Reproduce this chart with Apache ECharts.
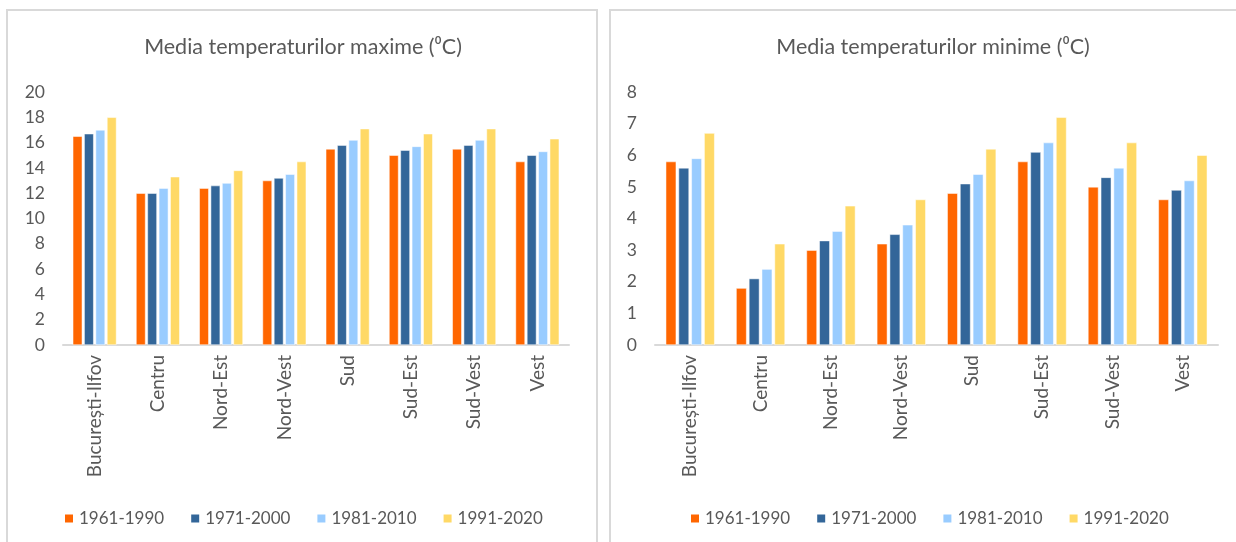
<!DOCTYPE html>
<html>
<head>
<meta charset="utf-8">
<script src="https://cdn.jsdelivr.net/npm/echarts@6/dist/echarts.min.js"></script>
<style>
html,body{margin:0;padding:0;background:#fff;}
#chart{width:1236px;height:542px;}
</style>
</head>
<body>
<div id="chart"></div>
<script>
const categories = ['București-Ilfov','Centru','Nord-Est','Nord-Vest','Sud','Sud-Est','Sud-Vest','Vest'];
const seriesNames = ['1961-1990','1971-2000','1981-2010','1991-2020'];

const max1961 = [16.5,12.0,12.4,13.0,15.5,15.0,15.5,14.5];
const max1971 = [16.7,12.0,12.6,13.2,15.8,15.4,15.8,15.0];
const max1981 = [17.0,12.4,12.8,13.5,16.2,15.7,16.2,15.3];
const max1991 = [18.0,13.3,13.8,14.5,17.1,16.7,17.1,16.3];

const min1961 = [5.8,1.8,3.0,3.2,4.8,5.8,5.0,4.6];
const min1971 = [5.6,2.1,3.3,3.5,5.1,6.1,5.3,4.9];
const min1981 = [5.9,2.4,3.6,3.8,5.4,6.4,5.6,5.2];
const min1991 = [6.7,3.2,4.4,4.6,6.2,7.2,6.4,6.0];

const maxTicks = {min:0, max:20, interval:2};
const minTicks = {min:0, max:8, interval:1};

const colors = ['#FF6600','#336699','#99CCFF','#FFD966'];
const FONT = 'Lato';
const TXT = '#595959';

const maxData = [max1961,max1971,max1981,max1991];
const minData = [min1961,min1971,min1981,min1991];

function xAxis(gi){
  return {
    type:'category', gridIndex:gi, data:categories,
    axisLine:{lineStyle:{color:'#d9d9d9',width:2}},
    axisTick:{show:false},
    axisLabel:{rotate:90,color:TXT,fontFamily:FONT,fontSize:19,margin:10,interval:0}
  };
}
function yAxis(gi,t){
  return {
    type:'value', gridIndex:gi, min:t.min, max:t.max, interval:t.interval,
    splitLine:{show:false}, axisLine:{show:false}, axisTick:{show:false},
    axisLabel:{color:TXT,fontFamily:FONT,fontSize:17.5,margin:18}
  };
}
const series = [];
seriesNames.forEach((n,i)=>{
  series.push({name:n,type:'bar',xAxisIndex:0,yAxisIndex:0,data:maxData[i],
    barWidth:9.5,barGap:'20%',itemStyle:{color:colors[i],borderColor:'#fff',borderWidth:0.5}});
});
seriesNames.forEach((n,i)=>{
  series.push({name:n,type:'bar',xAxisIndex:1,yAxisIndex:1,data:minData[i],
    barWidth:10.5,barGap:'22%',itemStyle:{color:colors[i],borderColor:'#fff',borderWidth:0.5}});
});

const legendText = {color:TXT,fontFamily:FONT,fontSize:17};
const titleText = {color:TXT,fontFamily:FONT,fontSize:21.5,fontWeight:'normal'};

const chart = echarts.init(document.getElementById('chart'),null,{renderer:'canvas'});
chart.setOption({
  animation:false,
  color:colors,
  title:[
    {text:'Media temperaturilor maxime (⁰C)',left:298,top:31,textAlign:'center',textStyle:titleText},
    {text:'Media temperaturilor minime (⁰C)',left:928,top:31,textAlign:'center',textStyle:titleText}
  ],
  legend:[
    {data:seriesNames,left:58,top:505,itemWidth:10,itemHeight:10,itemGap:25,icon:'rect',textStyle:legendText},
    {data:seriesNames,left:684,top:505,itemWidth:10,itemHeight:10,itemGap:25,icon:'rect',textStyle:legendText}
  ],
  grid:[
    {left:63,right:1236-569,top:92,bottom:542-345},
    {left:655,right:1236-1218,top:92,bottom:542-345}
  ],
  xAxis:[xAxis(0),xAxis(1)],
  yAxis:[yAxis(0,maxTicks),yAxis(1,minTicks)],
  series:series,
  graphic:[
    {type:'rect',shape:{x:7,y:10,width:590,height:560},style:{fill:'none',stroke:'#d9d9d9',lineWidth:2},silent:true,z:-1},
    {type:'rect',shape:{x:610,y:10,width:640,height:560},style:{fill:'none',stroke:'#d9d9d9',lineWidth:2},silent:true,z:-1}
  ]
});
</script>
</body>
</html>
